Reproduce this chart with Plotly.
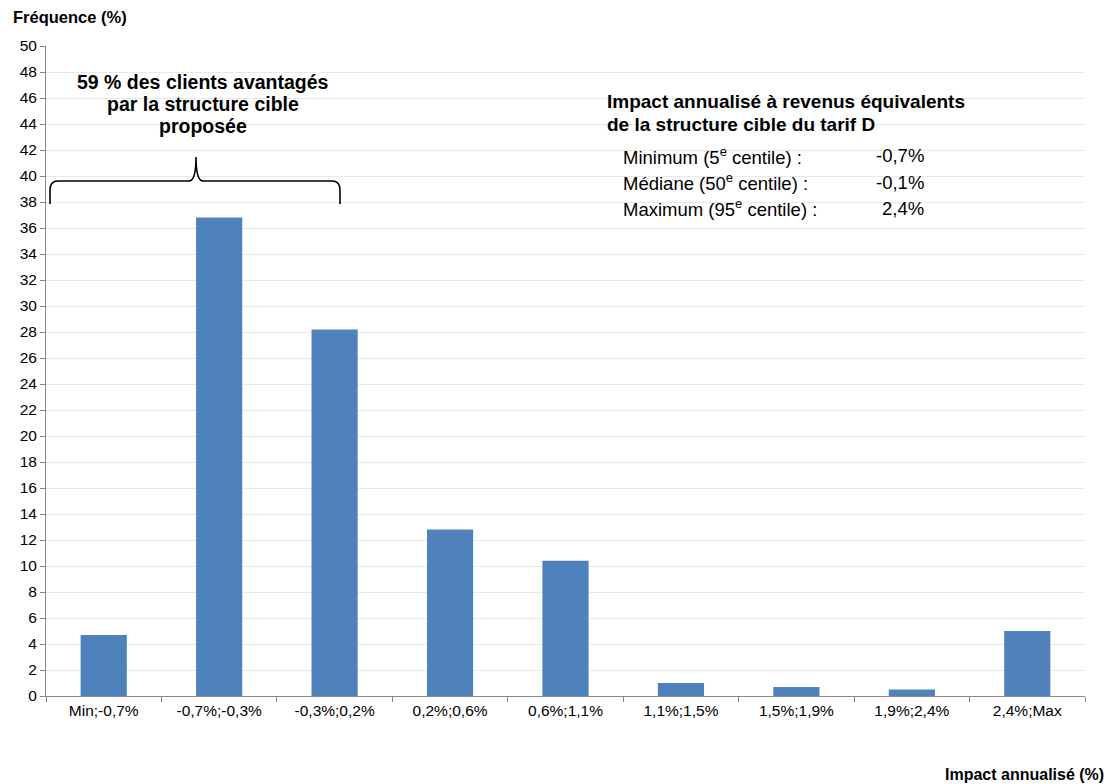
import plotly.graph_objects as go

# Histogram of annualised impact classes
categories = ["Min;-0,7%", "-0,7%;-0,3%", "-0,3%;0,2%", "0,2%;0,6%", "0,6%;1,1%",
              "1,1%;1,5%", "1,5%;1,9%", "1,9%;2,4%", "2,4%;Max"]
frequency = [4.7, 36.8, 28.2, 12.8, 10.4, 1.0, 0.7, 0.5, 5.0]

y_ticks = list(range(0, 51, 2))

summary_title = ["Impact annualisé à revenus équivalents",
                 "de la structure cible du tarif D"]
summary_labels = ["Minimum (5<sup>e</sup> centile) :",
                  "Médiane (50<sup>e</sup> centile) :",
                  "Maximum (95<sup>e</sup> centile) :"]
summary_values = ["-0,7%", "-0,1%", "2,4%"]

brace_text = ["59 % des clients avantagés", "par la structure cible", "proposée"]

W, H = 1112, 784
L, R, T, B = 46, 27, 46, 88
PW, PH = W - L - R, H - T - B
FONT = "Arial, Liberation Sans, sans-serif"


def px(x):
    return (x - L) / PW


def py(y):
    return (H - B - y) / PH


fig = go.Figure(go.Bar(
    x=categories, y=frequency,
    marker=dict(color="#4f81bd", line=dict(width=0)),
))

annotations = []
# axis titles
annotations.append(dict(text="<b>Fréquence (%)</b>", x=px(11), y=py(17), xref="paper", yref="paper",
                        xanchor="left", yanchor="middle", showarrow=False,
                        font=dict(size=16.5, color="#000")))
annotations.append(dict(text="<b>Impact annualisé (%)</b>", x=px(1106), y=py(774), xref="paper", yref="paper",
                        xanchor="right", yanchor="middle", showarrow=False,
                        font=dict(size=16, color="#000")))
# brace caption
for i, line in enumerate(brace_text):
    annotations.append(dict(text=f"<b>{line}</b>", x=px(203), y=py(82 + 22 * i), xref="paper", yref="paper",
                            xanchor="center", yanchor="middle", showarrow=False,
                            font=dict(size=19.5, color="#000")))
# summary box
for i, line in enumerate(summary_title):
    annotations.append(dict(text=f"<b>{line}</b>", x=px(605), y=py(101 + 24 * i), xref="paper", yref="paper",
                            xanchor="left", yanchor="middle", showarrow=False,
                            font=dict(size=19, color="#000")))
for i, (lab, val) in enumerate(zip(summary_labels, summary_values)):
    yy = py(156 + 26 * i)
    annotations.append(dict(text=lab, x=px(621), y=yy, xref="paper", yref="paper",
                            xanchor="left", yanchor="middle", showarrow=False,
                            font=dict(size=18.5, color="#000")))
    annotations.append(dict(text=val, x=px(926), y=yy, xref="paper", yref="paper",
                            xanchor="right", yanchor="middle", showarrow=False,
                            font=dict(size=18.5, color="#000")))

# curly brace over the first classes
pts = [("M", 50, 204), ("L", 50, 190), ("Q", 50, 181, 58, 181), ("L", 189, 181),
       ("Q", 196, 181, 196, 157), ("Q", 196, 181, 203, 181), ("L", 332, 181),
       ("Q", 340, 181, 340, 190), ("L", 340, 204)]
path = ""
for p in pts:
    cmd, coords = p[0], p[1:]
    pairs = [f"{px(coords[k]):.5f},{py(coords[k + 1]):.5f}" for k in range(0, len(coords), 2)]
    path += cmd + " " + " ".join(pairs) + " "

shapes = [
    dict(type="rect", xref="paper", yref="paper", x0=px(601), x1=px(1003), y0=py(224), y1=py(86),
         fillcolor="white", line=dict(width=0), layer="between"),
    dict(type="path", xref="paper", yref="paper", path=path.strip(),
         line=dict(color="#000", width=1.6), layer="above"),
]

fig.update_layout(
    width=W, height=H,
    margin=dict(l=L, r=R, t=T, b=B, pad=0),
    paper_bgcolor="white", plot_bgcolor="white",
    font=dict(family=FONT, size=15.5, color="#000"),
    showlegend=False,
    bargap=0.6,
    annotations=annotations,
    shapes=shapes,
    xaxis=dict(
        range=[-0.5, 8.5], showgrid=False, showline=True, linecolor="#868686", linewidth=1,
        ticks="outside", tickson="boundaries", ticklen=5, tickcolor="#868686",
        tickfont=dict(size=15.5, color="#000"), fixedrange=True,
    ),
    yaxis=dict(
        range=[0, 50], tickvals=y_ticks, showgrid=True, gridcolor="#e9e9e9", gridwidth=1,
        showline=True, linecolor="#868686", linewidth=1, zeroline=False,
        ticks="outside", ticklen=5, tickcolor="#868686",
        tickfont=dict(size=15.5, color="#000"), fixedrange=True,
    ),
)

fig.write_html("out.html")
